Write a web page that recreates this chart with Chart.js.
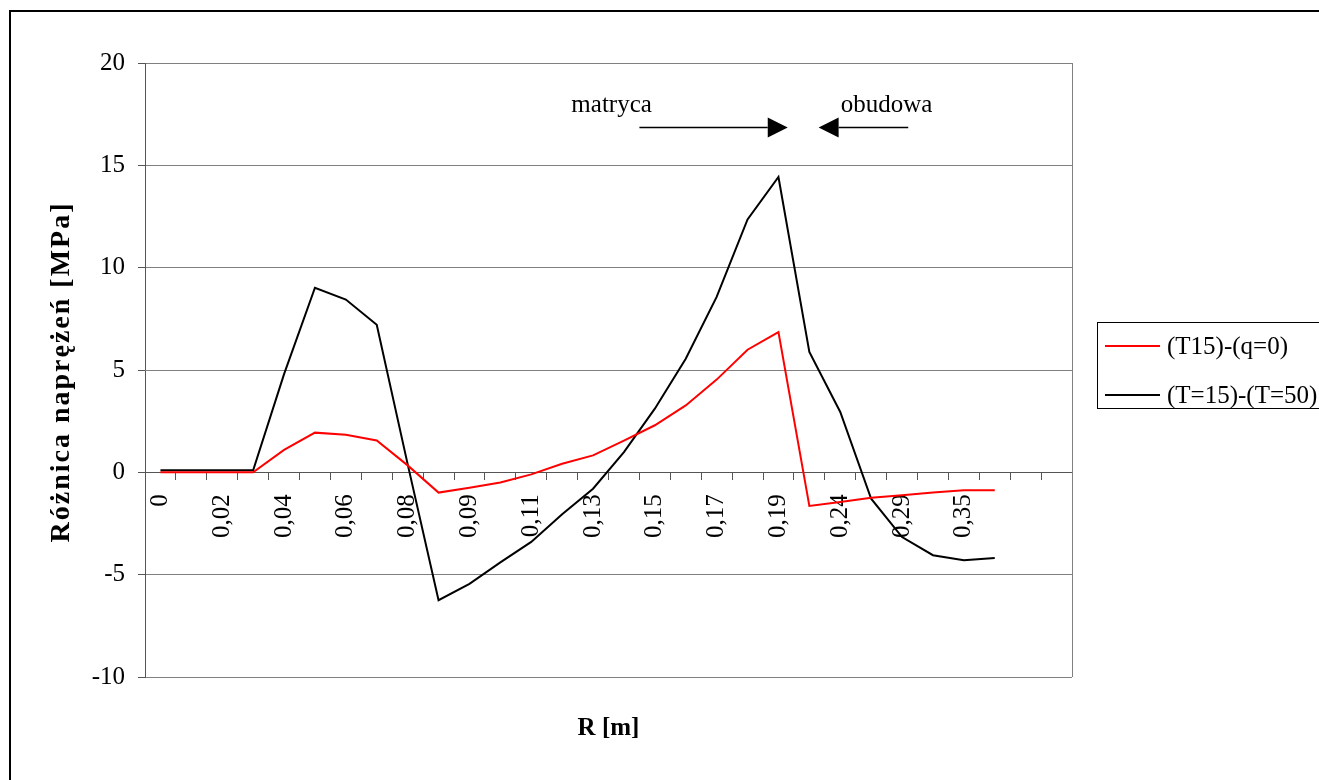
<!DOCTYPE html>
<html>
<head>
<meta charset="utf-8">
<script src="https://cdn.jsdelivr.net/npm/chart.js@4/dist/chart.umd.min.js"></script>
<style>
    html, body { margin: 0; padding: 0; background: #fff; }
    #kontener { width: 1319px; height: 780px; position: relative; }
</style>
</head>
<body>
<div id="kontener"><canvas id="grafica-naprezenia"></canvas></div>
<script>
// Oś R [m] - co druga etykieta jest widoczna
const promienie = [
    "0", "0,01", "0,02", "0,03", "0,04", "0,05", "0,06", "0,07", "0,08", "0,085",
    "0,09", "0,1", "0,11", "0,12", "0,13", "0,14", "0,15", "0,16", "0,17", "0,18",
    "0,19", "0,2", "0,24", "0,26", "0,29", "0,32", "0,35", "0,38", "", "",
];

const nazwySerii = ["(T15)-(q=0)", "(T=15)-(T=50)"];

const roznicaQ0 = [
    0, 0, 0, 0, 1.1, 1.94, 1.84, 1.56, 0.34, -0.99,
    -0.75, -0.5, -0.1, 0.42, 0.83, 1.55, 2.3, 3.27, 4.53, 5.99,
    6.85, -1.64, -1.45, -1.24, -1.12, -0.99, -0.88, -0.88,
];

const roznicaT50 = [
    0.1, 0.1, 0.1, 0.1, 4.8, 9.02, 8.44, 7.21, 0.4, -6.25,
    -5.45, -4.4, -3.4, -2.05, -0.8, 0.99, 3.11, 5.55, 8.57, 12.36,
    14.43, 5.88, 2.95, -1.29, -3.16, -4.05, -4.3, -4.19,
];

const osY = { min: -10, max: 20, krok: 5 };

// opisy i strzałki w jednostkach osi (indeks kategorii, MPa)
const opisy = [
    { tekst: "matryca", x: 14.6, y: 17.6 },
    { tekst: "obudowa", x: 23.5, y: 17.6 },
];
const strzalki = [
    { od: 15.5, do: 20.3, y: 16.87 },
    { od: 24.2, do: 21.3, y: 16.87 },
];

const FONT = '"Liberation Serif", "Times New Roman", serif';
Chart.defaults.font.family = FONT;
Chart.defaults.color = "#000";

const ozdoby = {
    id: "ozdoby",
    afterDraw(chart) {
        const { ctx, chartArea: a, scales: { x, y } } = chart;
        ctx.save();

        // prawa krawędź obszaru wykresu
        ctx.strokeStyle = "#808080";
        ctx.lineWidth = 1;
        ctx.beginPath();
        ctx.moveTo(Math.round(a.right) + 0.5, a.top);
        ctx.lineTo(Math.round(a.right) + 0.5, a.bottom);
        ctx.stroke();

        // ramka całego wykresu
        ctx.strokeStyle = "#000";
        ctx.lineWidth = 2;
        ctx.strokeRect(10, 11, chart.width + 20, chart.height + 20);

        // opisy
        ctx.fillStyle = "#000";
        ctx.font = "25px " + FONT;
        ctx.textAlign = "center";
        ctx.textBaseline = "alphabetic";
        opisy.forEach((o) => ctx.fillText(o.tekst, x.getPixelForValue(o.x), y.getPixelForValue(o.y)));

        // strzałki
        strzalki.forEach((s) => {
            const x0 = x.getPixelForValue(s.od);
            const x1 = x.getPixelForValue(s.do);
            const yy = Math.round(y.getPixelForValue(s.y)) + 0.5;
            const k = Math.sign(x1 - x0);
            ctx.lineWidth = 1.5;
            ctx.beginPath();
            ctx.moveTo(x0, yy);
            ctx.lineTo(x1 - k * 20, yy);
            ctx.stroke();
            ctx.beginPath();
            ctx.moveTo(x1, yy);
            ctx.lineTo(x1 - k * 20, yy - 10);
            ctx.lineTo(x1 - k * 20, yy + 10);
            ctx.closePath();
            ctx.fill();
        });

        // legenda
        const lx = Math.round(a.right) + 25;
        const ly = Math.round((a.top + a.bottom) / 2) - 48;
        ctx.strokeStyle = "#000";
        ctx.lineWidth = 1;
        ctx.strokeRect(lx + 0.5, ly + 0.5, chart.width - lx + 10, 86);
        ctx.textAlign = "left";
        ctx.textBaseline = "middle";
        chart.data.datasets.forEach((ds, i) => {
            const yy = ly + 24 + i * 49;
            ctx.strokeStyle = ds.borderColor;
            ctx.lineWidth = 2;
            ctx.beginPath();
            ctx.moveTo(lx + 8, yy);
            ctx.lineTo(lx + 63, yy);
            ctx.stroke();
            ctx.fillText(ds.label, lx + 70, yy + 1);
        });

        // tytuły osi
        ctx.textAlign = "center";
        ctx.font = "bold 25px " + FONT;
        ctx.fillText("R [m]", (a.left + a.right) / 2, a.bottom + 52);

        ctx.translate(62, (a.top + a.bottom) / 2 + 2);
        ctx.rotate(-Math.PI / 2);
        ctx.font = "bold 28px " + FONT;
        ctx.letterSpacing = "2px";
        ctx.fillText("Różnica naprężeń [MPa]", 0, 0);

        ctx.restore();
    },
};

const ctx = document.getElementById("grafica-naprezenia");
const grafica = new Chart(ctx, {
    type: "line",
    data: {
        labels: promienie,
        datasets: [
            {
                label: nazwySerii[0],
                data: roznicaQ0,
                borderColor: "#ff0000",
                borderWidth: 2,
                pointRadius: 0,
                tension: 0,
                borderJoinStyle: "miter",
            },
            {
                label: nazwySerii[1],
                data: roznicaT50,
                borderColor: "#000000",
                borderWidth: 2,
                pointRadius: 0,
                tension: 0,
                borderJoinStyle: "miter",
            },
        ],
    },
    options: {
        responsive: true,
        maintainAspectRatio: false,
        animation: false,
        layout: { padding: { left: 10, top: 63, right: 247, bottom: 103 } },
        plugins: {
            legend: { display: false },
            tooltip: { enabled: false },
        },
        scales: {
            x: {
                type: "category",
                position: { y: 0 },
                offset: true,
                grid: { offset: true, drawOnChartArea: false, drawTicks: true, tickLength: 7, tickColor: "#555" },
                border: { display: true, color: "#555", width: 1 },
                ticks: {
                    autoSkip: false,
                    maxRotation: 90,
                    minRotation: 90,
                    padding: 15,
                    color: "#000",
                    font: { size: 25 },
                    callback: (v, i) => (i % 2 === 0 ? promienie[i] : ""),
                },
            },
            y: {
                min: osY.min,
                max: osY.max,
                ticks: { stepSize: osY.krok, padding: 13, color: "#000", font: { size: 25 } },
                grid: { color: "#808080", tickLength: 7, tickColor: "#555" },
                border: { color: "#555" },
                afterFit: (skala) => {
                    skala.width = 135;
                },
            },
        },
    },
    plugins: [ozdoby],
});
</script>
</body>
</html>
